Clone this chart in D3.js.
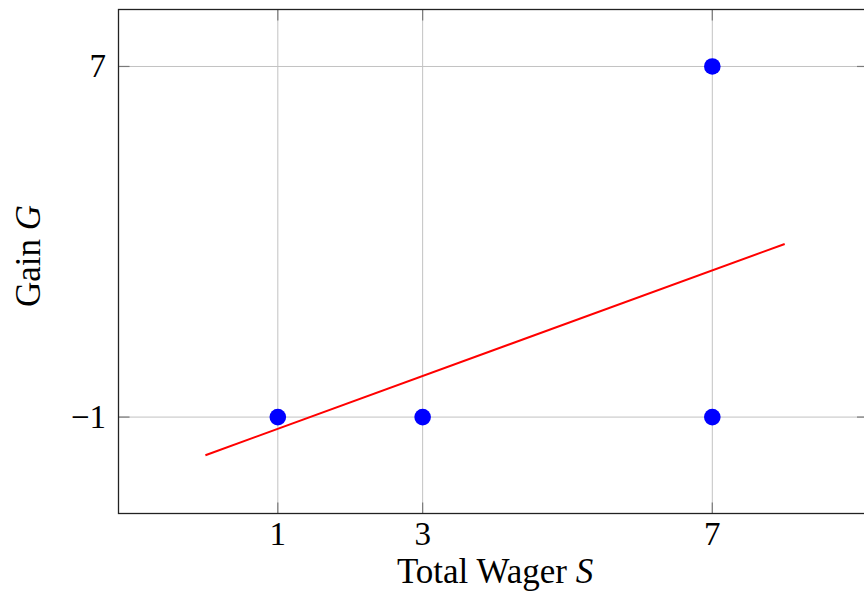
<!DOCTYPE html>
<html>
<head>
<meta charset="utf-8">
<script src="https://cdn.jsdelivr.net/npm/d3@7"></script>
<style>
  html, body { margin: 0; padding: 0; background: #fff; }
  svg { display: block; }
  text { font-family: "Liberation Serif", "DejaVu Serif", serif; fill: #000; }
</style>
</head>
<body>
<svg id="chart" width="864" height="592"></svg>
<script>
// Observed outcomes: total wager vs. gain
const wagers = [1, 3, 7, 7];
const gains = [-1, -1, -1, 7];

// Fitted trend line endpoints (S, G)
const trendS = [0, 8];
const trendG = [-1.87, 2.95];

// Axis ticks
const xTicks = [1, 3, 7];
const yTicks = [-1, 7];

// Axis ranges
const xDomain = [-1.2, 9.15];
const yDomain = [-3.2, 8.3];

const svg = d3.select("#chart");
const plotL = 118.5, plotT = 9.5, plotR = 868, plotB = 513.5;
const tickFont = 33, titleFont = 35;

const x = d3.scaleLinear().domain(xDomain).range([plotL, plotR]);
const y = d3.scaleLinear().domain(yDomain).range([plotB, plotT]);

// grid
const grid = svg.append("g").attr("stroke", "#c2c2c2").attr("stroke-width", 1);
grid.selectAll("line.gx").data(xTicks).join("line")
  .attr("class", "gx")
  .attr("x1", d => x(d)).attr("x2", d => x(d))
  .attr("y1", plotT).attr("y2", plotB);
grid.selectAll("line.gy").data(yTicks).join("line")
  .attr("class", "gy")
  .attr("y1", d => y(d)).attr("y2", d => y(d))
  .attr("x1", plotL).attr("x2", plotR);

// inward tick marks on all four sides
const tickLen = 11;
const tk = svg.append("g").attr("stroke", "#7a7a7a").attr("stroke-width", 1.2);
xTicks.forEach(d => {
  tk.append("line").attr("x1", x(d)).attr("x2", x(d)).attr("y1", plotB).attr("y2", plotB - tickLen);
  tk.append("line").attr("x1", x(d)).attr("x2", x(d)).attr("y1", plotT).attr("y2", plotT + tickLen);
});
yTicks.forEach(d => {
  tk.append("line").attr("y1", y(d)).attr("y2", y(d)).attr("x1", plotL).attr("x2", plotL + tickLen);
  tk.append("line").attr("y1", y(d)).attr("y2", y(d)).attr("x1", plotR).attr("x2", plotR - tickLen);
});

// frame
svg.append("rect")
  .attr("x", plotL).attr("y", plotT)
  .attr("width", plotR - plotL).attr("height", plotB - plotT)
  .attr("fill", "none").attr("stroke", "#222").attr("stroke-width", 1.3);

// trend line
const line = d3.line().x(d => x(d[0])).y(d => y(d[1]));
svg.append("path")
  .datum(trendS.map((s, i) => [s, trendG[i]]))
  .attr("d", line)
  .attr("fill", "none").attr("stroke", "#ff0000").attr("stroke-width", 2);

// points
svg.selectAll("circle.pt").data(wagers.map((s, i) => [s, gains[i]])).join("circle")
  .attr("class", "pt")
  .attr("cx", d => x(d[0])).attr("cy", d => y(d[1]))
  .attr("r", 8.3).attr("fill", "#0000ff");

// tick labels
svg.selectAll("text.xt").data(xTicks).join("text")
  .attr("class", "xt")
  .attr("x", d => x(d)).attr("y", 545)
  .attr("text-anchor", "middle").attr("font-size", tickFont)
  .text(d => d);
svg.selectAll("text.yt").data(yTicks).join("text")
  .attr("class", "yt")
  .attr("x", 106).attr("y", d => y(d) + 11)
  .attr("text-anchor", "end").attr("font-size", tickFont)
  .text(d => d < 0 ? "\u2212" + Math.abs(d) : d);

// axis titles
const xt = svg.append("text")
  .attr("x", 495).attr("y", 583)
  .attr("text-anchor", "middle").attr("font-size", titleFont);
xt.append("tspan").text("Total Wager ");
xt.append("tspan").attr("font-style", "italic").text("S");

const yt = svg.append("text")
  .attr("transform", "translate(40,256) rotate(-90)")
  .attr("text-anchor", "middle").attr("font-size", titleFont);
yt.append("tspan").text("Gain ");
yt.append("tspan").attr("font-style", "italic").text("G");
</script>
</body>
</html>
